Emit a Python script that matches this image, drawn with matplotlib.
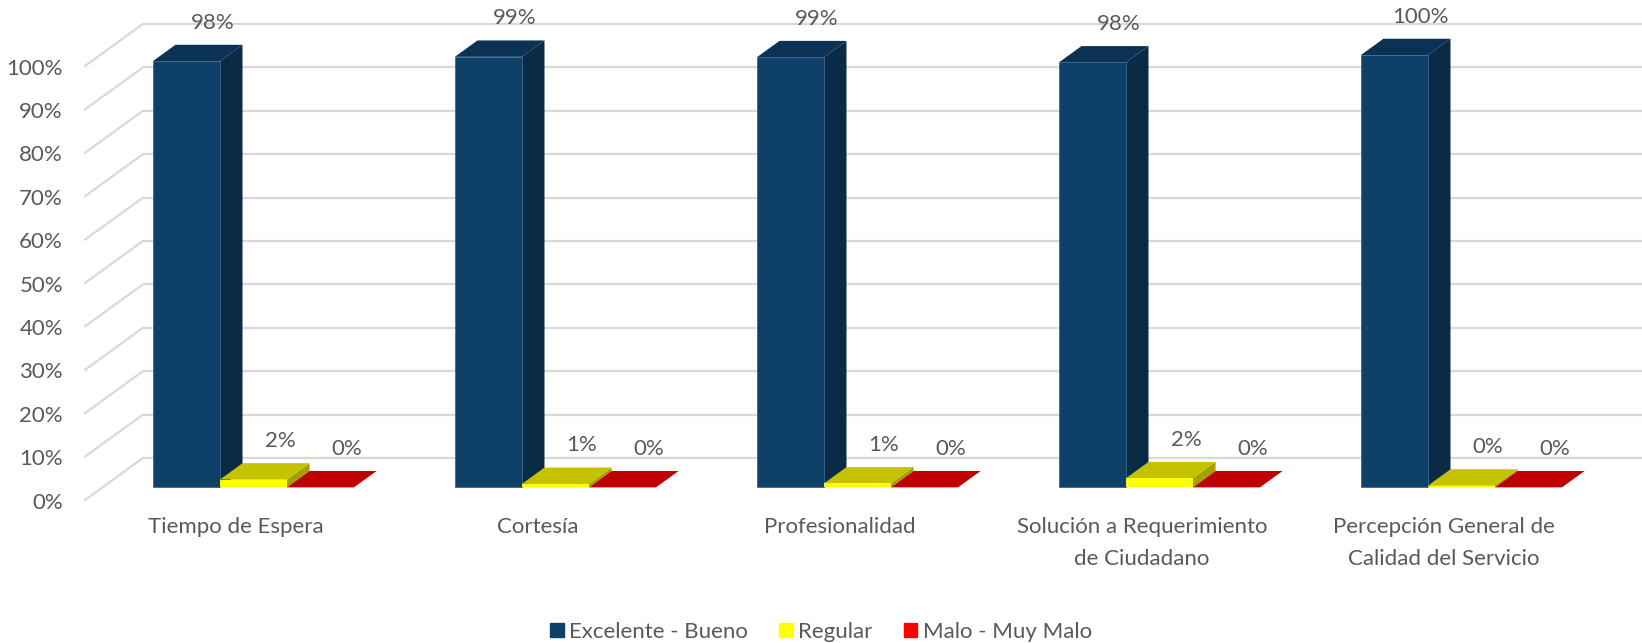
import numpy as np
import matplotlib.pyplot as plt
from matplotlib.patches import Patch

plt.rcParams['font.family'] = ['Lato', 'DejaVu Sans']

categories = ['Tiempo de Espera', 'Cortesía', 'Profesionalidad',
              'Solución a Requerimiento\nde Ciudadano',
              'Percepción General de\nCalidad del Servicio']
series_names = ['Excelente - Bueno', 'Regular', 'Malo - Muy Malo']
excelente = [98.2, 99.2, 99.1, 97.9, 99.6]
regular = [1.8, 0.8, 0.9, 2.1, 0.4]
malo = [0.0, 0.0, 0.0, 0.0, 0.0]
y_ticks = [0, 10, 20, 30, 40, 50, 60, 70, 80, 90, 100]

base_colors = ['#0F4068', '#FFFF00', '#C00000']
top_colors = ['#0B3254', '#C5C200', '#C00000']
side_colors = ['#0A2A45', '#A3A000', '#A00000']
legend_colors = ['#0F4068', '#FFFF00', '#FF0000']
text_color = '#595959'
grid_color = '#D9D9D9'

# oblique projection: depth z in [0, 1] from floor front to back wall
DX = 0.192      # horizontal shift per unit depth (category units)
DY = 9.68       # vertical shift per unit depth (percent units)
Z0, Z1 = 0.30, 0.69
BAR_W = 0.222
FS = 16


def proj(x, y, z):
    return x + z * DX, y + z * DY


def face(ax, pts, color, z, edge=None, lw=0.0):
    xs, ys = zip(*[proj(*p) for p in pts])
    ax.fill(xs, ys, facecolor=color, edgecolor=edge if edge else color,
            linewidth=lw, zorder=z, joinstyle='miter')


fig = plt.figure(figsize=(16.42, 6.43), dpi=100)
ax = fig.add_axes([0, 0, 1, 1])
ax.set_xlim(-0.7815, 4.6556)
ax.set_ylim(-32.95, 115.2)
ax.axis('off')

# back wall and side wall gridlines
xmax = 5.2
for v in y_ticks:
    bx0, by0 = proj(-0.5, v, 1)
    bx1, by1 = proj(xmax, v, 1)
    fx, fy = proj(-0.5, v, 0)
    ax.plot([bx0, bx1], [by0, by1], color=grid_color, lw=1.6, zorder=1,
            solid_capstyle='butt')
    ax.plot([fx, bx0], [fy, by0], color=grid_color, lw=1.6, zorder=1,
            solid_capstyle='round')
    ax.text(-0.573, v - 0.6, f'{v}%', ha='right', va='center', fontsize=FS,
            color=text_color)

data = [excelente, regular, malo]
zo = 2
for i in range(len(categories)):
    for s, vals in enumerate(data):
        h = vals[i]
        x0 = i + (s - 1.5) * BAR_W
        x1 = x0 + BAR_W
        # side, top, front
        if h > 0:
            face(ax, [(x1, 0, Z0), (x1, 0, Z1), (x1, h, Z1), (x1, h, Z0)],
                 side_colors[s], zo)
        face(ax, [(x0, h, Z0), (x1, h, Z0), (x1, h, Z1), (x0, h, Z1)],
             top_colors[s], zo + 0.1)
        if h > 0:
            face(ax, [(x0, 0, Z0), (x1, 0, Z0), (x1, h, Z0), (x0, h, Z0)],
                 base_colors[s], zo + 0.2,
                 edge='#3A6890' if s == 0 else None, lw=0.6 if s == 0 else 0)
        zo += 1
        lx, ly = proj((x0 + x1) / 2 + 0.013, h + 5.1, Z1)
        ax.text(lx, ly, f'{h:.0f}%', ha='center', va='center', fontsize=FS,
                color=text_color, zorder=50)
    ax.text(i, -4.0, categories[i], ha='center', va='top', fontsize=FS,
            color=text_color, linespacing=1.7)

handles = [Patch(facecolor=c, edgecolor=c) for c in legend_colors]
fig.legend(handles, series_names, loc='center', ncol=3,
           bbox_to_anchor=(0.5, 0.0175), frameon=False, fontsize=FS,
           handlelength=0.6, handleheight=0.6, handletextpad=0.25,
           columnspacing=1.4, labelcolor=text_color)

fig.savefig('out.png', dpi=100)
